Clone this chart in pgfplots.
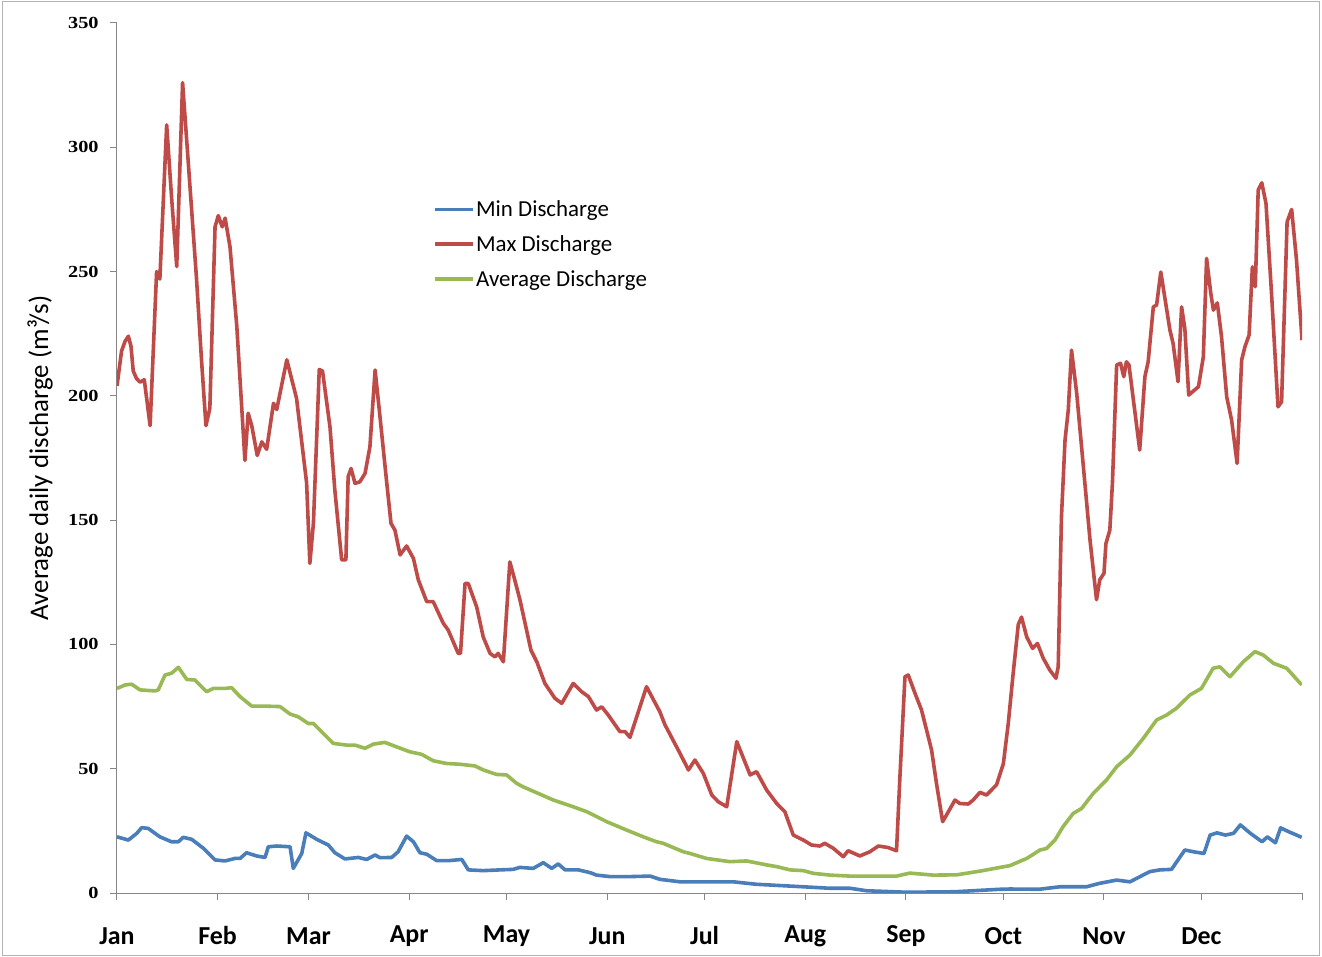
\documentclass[border=0pt]{standalone}
\usepackage{fontspec}
\setmainfont{Carlito}
\newfontfamily\tickfont{Liberation Serif}
\usepackage{pgfplots}
\pgfplotsset{compat=1.18}

\definecolor{minblue}{HTML}{4A7EBB}
\definecolor{maxred}{HTML}{BE4B48}
\definecolor{avggreen}{HTML}{98B954}
\definecolor{axisgray}{HTML}{868686}

\begin{document}
\begin{tikzpicture}
\useasboundingbox (0,0) rectangle (1322bp,957bp);
\draw[gray!60, line width=1bp] (2bp,1.5bp) rectangle (1319.5bp,955.5bp);
\begin{axis}[
    at={(117bp,64bp)}, anchor=south west,
    scale only axis,
    width=1185bp, height=870bp,
    xmin=0, xmax=365,
    ymin=0, ymax=350,
    axis lines=left,
    axis line style={-, draw=axisgray, line width=1bp},
    tick align=outside,
    major tick length=7bp,
    tick style={axisgray, line width=1bp},
    xtick={0,31,59,90,120,151,181,212,243,273,304,334,365},
    xticklabels={Jan,Feb,Mar,Apr,May,Jun,Jul,Aug,Sep,Oct,Nov,Dec,},
    xticklabel style={font=\fontsize{26}{30}\selectfont\bfseries, anchor=center, yshift=-36bp},
    ytick={0,50,100,150,200,250,300,350},
    yticklabels={0,50,100,150,200,250,300,350},
    yticklabel style={font=\tickfont\bfseries\fontsize{17}{19}\selectfont, anchor=east, xscale=1.2, xshift=-6bp},
    ylabel={Average daily discharge (m³/s)},
    ylabel style={at={(axis description cs:-0.065,0.5)}, anchor=center, font=\fontsize{27}{30}\selectfont},
    legend style={at={(0.264,0.800)}, anchor=north west, draw=none, fill=none,
        font=\fontsize{23}{27}\selectfont, row sep=14.5bp,
        nodes={inner sep=1.5bp}},
    legend cell align=left,
    legend image code/.code={\draw[#1] (0bp,0bp) -- (38bp,0bp);},
]

% minimum daily discharge
\addplot[minblue, line width=3.6bp, line join=round] coordinates {
(0,22.6) (3.5,21.3) (6.1,24) (7.6,26.3) (9.6,26) (13.2,22.6) (16.8,20.6) (18.9,20.6)
(20.4,22.4) (23,21.6) (26.6,18) (30.2,13.3) (33.3,12.9) (36.3,13.9) (37.9,13.9) (39.9,16.2)
(43,14.9) (45.6,14.3) (46.6,18.6) (49.2,18.9) (53.3,18.6) (54.3,9.9) (56.9,15.9) (58.2,24.2)
(61.5,21.6) (65.1,19.3) (67.1,16.2) (70.2,13.7) (74.3,14.3) (76.9,13.5) (79.5,15.3) (81,14.2)
(84.6,14.3) (86.6,16.6) (89.2,22.9) (91.3,20.6) (93.3,16.2) (95.4,15.6) (98.5,13) (102,13)
(106.2,13.5) (108.2,9.3) (112.8,9) (118,9.3) (122,9.5) (124.1,10.3) (128.2,9.9) (131.3,12.2)
(133.9,9.9) (135.9,11.7) (138,9.3) (142.1,9.3) (145.7,8.2) (147.7,7.2) (151.8,6.6) (158,6.6)
(164.2,6.8) (167.2,5.5) (173.4,4.5) (189.8,4.5) (197,3.5) (211.4,2.5) (219.6,1.9) (225.8,1.9)
(230.9,0.9) (243.2,0.3) (258,0.5) (272,1.5) (275,1.6) (284,1.5) (290.4,2.5) (298.6,2.5)
(302.7,3.9) (307.9,5.2) (312,4.5) (318.1,8.6) (321.2,9.3) (324.8,9.5) (328.9,17.3) (331.5,16.6)
(334.8,15.9) (336.7,23.3) (338.8,24.2) (341.4,23.3) (343.9,24) (346,27.4) (349.1,24) (352.7,20.6)
(354.3,22.6) (356.8,20.2) (358.4,26.2) (361,24.6) (364.9,22.4)
};
\addlegendentry{Min Discharge}

% maximum daily discharge
\addplot[maxred, line width=3.6bp, line join=round] coordinates {
(0,204) (1.4,218) (2.5,222) (3.5,224) (4.3,220) (5,210) (6,207) (7.1,205.5) (8.4,206.5)
(10.2,188) (12.2,250) (13.2,247) (15.3,309) (16.8,280) (18.4,252) (20.2,326) (22,293)
(24.5,247) (26,215) (27.4,188) (28.6,195) (30.2,268) (31.2,272.5) (32.4,268) (33.3,271.5)
(34.8,260) (36.9,228) (38.2,200) (39.4,174) (40.4,193) (41.5,188) (43.2,176) (44.6,181.5)
(46.1,178.5) (48.2,197) (49.2,194.5) (52.3,214.5) (55.3,199) (58.4,165) (59.4,132.6)
(60.5,148.8) (62.3,210.6) (63.3,210) (65.6,187.5) (67.1,162) (69.2,134) (70.5,134)
(71.2,167.5) (72.1,170.8) (73.3,164.8) (74.8,165.4) (76.4,168.8) (77.9,179.5) (79.5,210.4)
(81,191.6) (83.1,164.8) (84.4,148.7) (85.6,146) (87.2,136) (89.2,139.6) (91.3,134.6)
(92.8,126) (95.4,117.2) (97.4,117.2) (100.5,108.5) (102,105.8) (105.1,96.4) (105.8,96.4)
(107.2,124.5) (108.2,124.5) (110.8,115) (112.8,103) (114.9,96.4) (116.4,95) (117.4,96.4)
(119,93) (121,133.2) (122.5,126) (124.1,118) (127.5,97.7) (129.3,93) (131.8,84.3)
(134.9,78.3) (137,76.3) (140.5,84.3) (143.1,81) (145.2,79) (147.7,73.6) (149.3,74.9)
(151.3,71.6) (154.9,64.9) (156.5,64.9) (158,62.6) (163.1,83) (167.2,72.9) (168.8,67.6)
(173.4,56.2) (176,49.5) (178,53.5) (180.6,48.1) (183.2,39.4) (185.2,36.7) (187.8,34.7)
(190.9,60.9) (195,47.5) (197,48.8) (200.1,41.4) (203.2,36) (205.7,32.7) (208.3,23.3)
(211.4,21.3) (213.9,19.3) (216.5,18.9) (218,20) (220.6,18) (223.7,14.6) (225.2,17)
(228.8,14.9) (231.9,16.6) (234.5,18.9) (237.5,18.3) (240.1,17) (241.1,45.5) (242.7,87)
(243.7,87.7) (245.8,80.3) (247.8,73.6) (250.9,57.5) (252.4,44.1) (254.3,28.7) (255.5,31.4)
(258.1,37.4) (259.6,36) (262.2,35.8) (263.7,37.4) (265.8,40.5) (267.8,39.4) (270.9,43.5)
(273,52) (274.5,68) (276,88) (277.6,108) (278.6,111) (280.2,103) (282,98.4) (283.5,100.4)
(285.3,94.4) (287.3,89.7) (289.2,86.4) (289.9,91) (290.9,151.3) (292,182.2) (293,194.3)
(294,218.4) (295.6,201) (299.7,142) (301.7,118) (302.7,126) (304,128.6) (304.6,140.6)
(305.8,146) (306.6,164.8) (307.9,212.4) (309.1,213.1) (310.1,207.7) (310.9,213.7)
(311.7,212.4) (315,178.2) (316.6,207.7) (317.6,213.7) (319.2,235.8) (320.2,236.5)
(321.5,249.8) (324.3,226.5) (325.3,221) (326.8,205.7) (327.9,235.8) (328.9,227.1)
(330.1,200.3) (333.1,203.7) (334.6,215.7) (335.6,255.3) (336.9,241.2) (337.7,234.5)
(338.9,237.4) (340.2,223.8) (341.8,199.6) (343.3,190.3) (345,172.8) (346.4,214.4)
(347.4,219.7) (348.7,224.5) (349.7,251.9) (350.6,243.9) (351.5,282.8) (352.6,285.7)
(353.9,277.4) (355.6,241.2) (357.6,195.6) (358.7,197.6) (360.4,270) (361.8,275)
(363.3,254.6) (365,222.4)
};
\addlegendentry{Max Discharge}

% average daily discharge
\addplot[avggreen, line width=3.6bp, line join=round] coordinates {
(0,82.3) (2.5,83.7) (4.5,84) (7.1,81.7) (11.7,81.3) (12.7,81.7) (14.8,87.7) (16.8,88.4)
(18.9,90.8) (21.5,85.9) (24,85.7) (27.6,81) (29.7,82.3) (33.3,82.3) (35.3,82.6) (37.9,79)
(41.5,75.2) (45,75.2) (50.2,75) (53.3,72) (55.8,70.9) (58.9,68.2) (60.5,68.2) (66.6,60.2)
(70.7,59.5) (73.3,59.5) (76.4,58.2) (79,59.9) (82.5,60.6) (86.1,58.8) (90.2,56.8) (93.8,55.8)
(97.4,53.2) (101.5,52.1) (105.6,51.8) (110.3,51.1) (112.8,49.5) (116.9,47.7) (120,47.5)
(123.1,44.1) (125.1,42.7) (134.4,37.4) (140.5,34.7) (144.7,32.7) (150.8,28.7) (157,25.3)
(162.1,22.6) (166.2,20.6) (168.2,20) (174.4,16.6) (176.5,15.9) (181.6,13.9) (188.8,12.6)
(193.9,12.9) (200.1,11.3) (203.2,10.6) (207.3,9.3) (211.4,9) (214.5,7.9) (219.6,7.2)
(225.8,6.8) (240.1,6.8) (244.2,8) (251.4,7.2) (258.6,7.3) (265.8,8.8) (272,10.3) (275,11)
(279.1,13.3) (280.2,13.9) (284.3,17.3) (286.3,17.9) (288.9,21.3) (291.4,26.7) (294.5,32)
(297.1,34) (300.7,40.1) (304.8,45.5) (307.9,50.8) (312,55.5) (316.1,62.2) (320.2,69.6)
(323.3,71.6) (326.3,74.3) (330.4,79.6) (334,82.3) (337.6,90.4) (339.7,91) (342.8,87)
(346.9,93) (350.5,97.1) (353.1,95.7) (356.2,92.4) (360.3,90.4) (364.9,83.7)
};
\addlegendentry{Average Discharge}

\end{axis}
\end{tikzpicture}
\end{document}
